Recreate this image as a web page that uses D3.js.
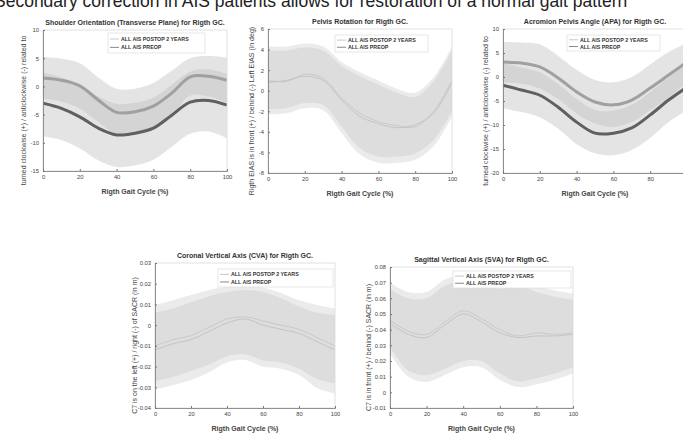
<!DOCTYPE html>
<html>
<head>
<meta charset="utf-8">
<script src="https://cdn.jsdelivr.net/npm/d3@7"></script>
<style>
  body { margin: 0; background: #fff; }
  svg text { font-family: "Liberation Sans", Arial, sans-serif; }
</style>
</head>
<body>
<script>
// gait cycle samples (%)
const gaitCycle = [0, 10, 20, 30, 40, 50, 60, 70, 80, 90, 100];
const seriesNames = ["ALL AIS POSTOP 2 YEARS", "ALL AIS PREOP"];

// shoulder orientation (deg)
const shoulderPostop   = [1.5, 1.1, 0.1, -2.4, -4.6, -4.5, -3.5, -1.2, 1.7, 1.8, 1.1];
const shoulderPostopHi = [5.2, 4.9, 4.1, 1.6, -0.4, -0.4, 0.6, 2.8, 5.0, 5.4, 5.1];
const shoulderPostopLo = [-2.2, -2.7, -3.9, -6.3, -8.5, -8.6, -7.6, -5.2, -1.6, -1.8, -2.9];
const shoulderPreop    = [-3.0, -3.9, -5.4, -7.4, -8.6, -8.3, -7.4, -5.1, -2.8, -2.5, -3.3];
const shoulderPreopHi  = [2.4, 1.6, 0.2, -1.8, -3.1, -2.9, -2.0, 0.3, 2.6, 3.0, 2.2];
const shoulderPreopLo  = [-8.9, -9.5, -11.0, -13.1, -14.3, -14.0, -13.0, -10.7, -8.4, -8.0, -9.2];
const shoulderTicks = [10, 5, 0, -5, -10, -15];

// pelvis rotation (deg)
const pelvisPostop   = [1.0, 0.9, 1.6, 1.2, -0.7, -2.2, -3.0, -3.4, -3.5, -2.0, 1.0];
const pelvisPostopHi = [4.3, 4.3, 4.6, 4.3, 2.8, 1.8, 1.0, 0.2, -0.2, 1.3, 4.3];
const pelvisPostopLo = [-1.8, -1.7, -1.2, -1.4, -3.5, -5.6, -6.4, -6.4, -6.1, -4.8, -2.0];
const pelvisPreop    = [0.8, 1.0, 1.4, 1.0, -0.9, -2.5, -3.2, -3.6, -3.3, -2.2, 0.8];
const pelvisPreopHi  = [3.9, 3.9, 4.2, 3.9, 2.4, 1.4, 0.6, -0.2, -0.6, 0.9, 3.9];
const pelvisPreopLo  = [-2.3, -2.2, -1.7, -1.9, -4.1, -6.2, -7.0, -7.0, -6.7, -5.4, -2.5];
const pelvisTicks = [6, 4, 2, 0, -2, -4, -6, -8];

// acromion pelvis angle (deg)
const apaPostop   = [3.1, 2.9, 2.1, -0.2, -3.1, -5.2, -5.8, -4.8, -2.3, 0.4, 3.1];
const apaPostopHi = [7.3, 7.2, 6.8, 4.4, 1.5, -0.6, -1.1, 0.0, 2.6, 5.2, 7.1];
const apaPostopLo = [-1.2, -1.4, -2.4, -4.6, -7.6, -9.7, -10.4, -9.4, -6.9, -4.3, -1.0];
const apaPreop    = [-1.7, -2.7, -3.8, -6.3, -9.4, -11.7, -11.7, -10.6, -7.9, -4.8, -2.1];
const apaPreopHi  = [3.0, 2.0, 1.0, -1.5, -4.6, -6.9, -7.0, -5.8, -3.1, -0.1, 2.7];
const apaPreopLo  = [-6.5, -7.3, -8.4, -10.8, -14.0, -15.9, -16.3, -15.2, -12.7, -9.4, -6.9];
const apaTicks = [10, 5, 0, -5, -10, -15, -20];

// coronal vertical axis (m)
const cvaPostop   = [-0.010, -0.007, -0.005, -0.001, 0.003, 0.004, 0.002, 0.000, -0.002, -0.006, -0.010];
const cvaPostopHi = [0.0097, 0.012, 0.0145, 0.017, 0.0185, 0.019, 0.018, 0.0155, 0.012, 0.0097, 0.008];
const cvaPostopLo = [-0.027, -0.025, -0.022, -0.019, -0.015, -0.014, -0.017, -0.018, -0.021, -0.026, -0.028];
const cvaPreop    = [-0.012, -0.009, -0.007, -0.003, 0.001, 0.003, 0.000, -0.002, -0.004, -0.008, -0.012];
const cvaPreopHi  = [0.006, 0.008, 0.011, 0.014, 0.016, 0.017, 0.016, 0.013, 0.009, 0.006, 0.005];
const cvaPreopLo  = [-0.031, -0.029, -0.0265, -0.0227, -0.018, -0.0168, -0.020, -0.021, -0.024, -0.0304, -0.033];
const cvaTicks = [0.03, 0.02, 0.01, 0, -0.01, -0.02, -0.03, -0.04];

// sagittal vertical axis (m)
const svaPostop   = [0.046, 0.039, 0.037, 0.045, 0.052, 0.047, 0.040, 0.036, 0.038, 0.037, 0.038];
const svaPostopHi = [0.070, 0.064, 0.064, 0.072, 0.075, 0.073, 0.070, 0.072, 0.068, 0.065, 0.063];
const svaPostopLo = [0.029, 0.014, 0.011, 0.015, 0.020, 0.020, 0.012, 0.007, 0.009, 0.012, 0.016];
const svaPreop    = [0.044, 0.037, 0.035, 0.043, 0.050, 0.045, 0.038, 0.035, 0.036, 0.036, 0.037];
const svaPreopHi  = [0.066, 0.060, 0.060, 0.068, 0.071, 0.069, 0.066, 0.068, 0.064, 0.061, 0.059];
const svaPreopLo  = [0.025, 0.010, 0.0066, 0.011, 0.016, 0.016, 0.008, 0.0034, 0.005, 0.008, 0.012];
const svaTicks = [0.08, 0.07, 0.06, 0.05, 0.04, 0.03, 0.02, 0.01, 0, -0.01];

const panels = [
  { title: "Shoulder Orientation (Transverse Plane) for Rigth GC.",
    ylabel: "turned clockwise (+) / anticlockwise (-) related to",
    ticks: shoulderTicks, l: 43, r: 227, t: 30, b: 171, ylx: 26, strong: true,
    leg: [108, 33, 97, 20],
    post: [shoulderPostop, shoulderPostopHi, shoulderPostopLo],
    pre: [shoulderPreop, shoulderPreopHi, shoulderPreopLo] },
  { title: "Pelvis Rotation for Rigth GC.",
    ylabel: "Rigth EIAS is in front (+) / behind (-) Left EIAS (in deg)",
    ticks: pelvisTicks, l: 268, r: 452, t: 29, b: 173, ylx: 254, strong: false,
    leg: [335, 35, 93, 17],
    post: [pelvisPostop, pelvisPostopHi, pelvisPostopLo],
    pre: [pelvisPreop, pelvisPreopHi, pelvisPreopLo] },
  { title: "Acromion Pelvis Angle (APA) for Rigth GC.",
    ylabel: "turned clockwise (+) / anticlockwise (-) related to",
    ticks: apaTicks, l: 503, r: 687, t: 29, b: 173, ylx: 488, strong: true,
    leg: [567, 35, 93, 16],
    post: [apaPostop, apaPostopHi, apaPostopLo],
    pre: [apaPreop, apaPreopHi, apaPreopLo] },
  { title: "Coronal Vertical Axis (CVA) for Rigth GC.",
    ylabel: "C7 is on the left (+) / right (-) of SACR (in m)",
    ticks: cvaTicks, l: 155, r: 335, t: 263, b: 408, ylx: 137, strong: false,
    leg: [218, 269, 115, 18],
    post: [cvaPostop, cvaPostopHi, cvaPostopLo],
    pre: [cvaPreop, cvaPreopHi, cvaPreopLo] },
  { title: "Sagittal Vertical Axis (SVA) for Rigth GC.",
    ylabel: "C7 is in front (+) / behind (-) SACR (in m)",
    ticks: svaTicks, l: 390, r: 573, t: 267, b: 408, ylx: 371, strong: false,
    leg: [453, 271, 118, 17],
    post: [svaPostop, svaPostopHi, svaPostopLo],
    pre: [svaPreop, svaPreopHi, svaPreopLo] }
];

const svg = d3.select("body").append("svg")
  .attr("width", 683).attr("height", 434);

// heading of the page, cut by the top edge
svg.append("text")
  .attr("x", -6).attr("y", 7)
  .attr("font-size", 17.5).attr("fill", "#222")
  .text("Secondary correction in AIS patients allows for restoration of a normal gait pattern");

panels.forEach((p, i) => {
  const x = d3.scaleLinear().domain([0, 100]).range([p.l, p.r]);
  const y = d3.scaleLinear().domain(d3.extent(p.ticks)).range([p.b, p.t]);
  const g = svg.append("g");

  g.append("clipPath").attr("id", "clip" + i)
    .append("rect").attr("x", p.l).attr("y", p.t)
    .attr("width", p.r - p.l).attr("height", p.b - p.t);

  const plot = g.append("g").attr("clip-path", "url(#clip" + i + ")");

  const area = d3.area()
    .x((d, j) => x(gaitCycle[j]))
    .y0(d => y(d[1]))
    .y1(d => y(d[0]))
    .curve(d3.curveCatmullRom.alpha(0.5));
  const line = d3.line()
    .x((d, j) => x(gaitCycle[j]))
    .y(d => y(d))
    .curve(d3.curveCatmullRom.alpha(0.5));

  [p.post, p.pre].forEach(s => {
    const band = gaitCycle.map((c, j) => [s[1][j], s[2][j]]);
    plot.append("path").datum(band)
      .attr("d", area)
      .attr("fill", "#bcbcbc")
      .attr("fill-opacity", p.strong ? 0.4 : 0.3);
  });

  const lineColors = p.strong ? ["#a0a0a0", "#606060"] : ["#c9c9c9", "#c4c4c4"];
  [p.post, p.pre].forEach((s, k) => {
    plot.append("path").datum(s[0])
      .attr("d", line)
      .attr("fill", "none")
      .attr("stroke", lineColors[k])
      .attr("stroke-width", p.strong ? 3 : 1);
  });

  // box
  g.append("rect")
    .attr("x", p.l).attr("y", p.t)
    .attr("width", p.r - p.l).attr("height", p.b - p.t)
    .attr("fill", "none").attr("stroke", "#dadada").attr("stroke-width", 0.8);

  const xAxis = g.append("g")
    .attr("transform", "translate(0," + p.b + ")")
    .call(d3.axisBottom(x).tickValues([0, 20, 40, 60, 80, 100])
      .tickSize(-2).tickPadding(4).tickFormat(d => String(d)));
  const yAxis = g.append("g")
    .attr("transform", "translate(" + p.l + ",0)")
    .call(d3.axisLeft(y).tickValues(p.ticks)
      .tickSize(-2).tickPadding(4).tickFormat(d => String(d)));

  [xAxis, yAxis].forEach(a => {
    a.select(".domain").attr("stroke", "#777").attr("stroke-width", 0.8);
    a.selectAll(".tick line").attr("stroke", "#777");
    a.selectAll(".tick text").attr("font-size", 5.8).attr("fill", "#444")
      .attr("font-family", "Liberation Sans, Arial, sans-serif");
  });

  // title and axis labels
  g.append("text")
    .attr("x", (p.l + p.r) / 2).attr("y", p.t - 5)
    .attr("text-anchor", "middle")
    .attr("font-size", 7).attr("font-weight", "bold").attr("fill", "#333")
    .text(p.title);

  g.append("text")
    .attr("x", (p.l + p.r) / 2).attr("y", p.b + 23)
    .attr("text-anchor", "middle")
    .attr("font-size", 7).attr("font-weight", "bold").attr("fill", "#444")
    .text("Rigth Gait Cycle (%)");

  // y label, clipped like the figure crop
  g.append("clipPath").attr("id", "yclip" + i)
    .append("rect").attr("x", p.ylx - 8).attr("y", p.t - 8)
    .attr("width", 12).attr("height", p.b - p.t + 30);

  g.append("g").attr("clip-path", "url(#yclip" + i + ")")
    .append("text")
    .attr("transform", "translate(" + p.ylx + "," + ((p.t + p.b) / 2 + 10) + ") rotate(-90)")
    .attr("text-anchor", "middle")
    .attr("font-size", 7).attr("fill", "#444")
    .text(p.ylabel);

  // legend
  const [lx, ly, lw, lh] = p.leg;
  const leg = g.append("g");
  leg.append("rect")
    .attr("x", lx).attr("y", ly).attr("width", lw).attr("height", lh)
    .attr("fill", "#fff").attr("stroke", "#d6d6d6").attr("stroke-width", 0.6);
  seriesNames.forEach((name, k) => {
    const yy = ly + lh * (k === 0 ? 0.3 : 0.72);
    leg.append("line")
      .attr("x1", lx + 2).attr("x2", lx + 11)
      .attr("y1", yy).attr("y2", yy)
      .attr("stroke", k === 0 ? "#c8c8c8" : "#8a8a8a").attr("stroke-width", 1);
    leg.append("text")
      .attr("x", lx + 13).attr("y", yy + 2)
      .attr("font-size", 5.3).attr("font-weight", "bold").attr("fill", "#333")
      .text(name);
  });
});
</script>
</body>
</html>
